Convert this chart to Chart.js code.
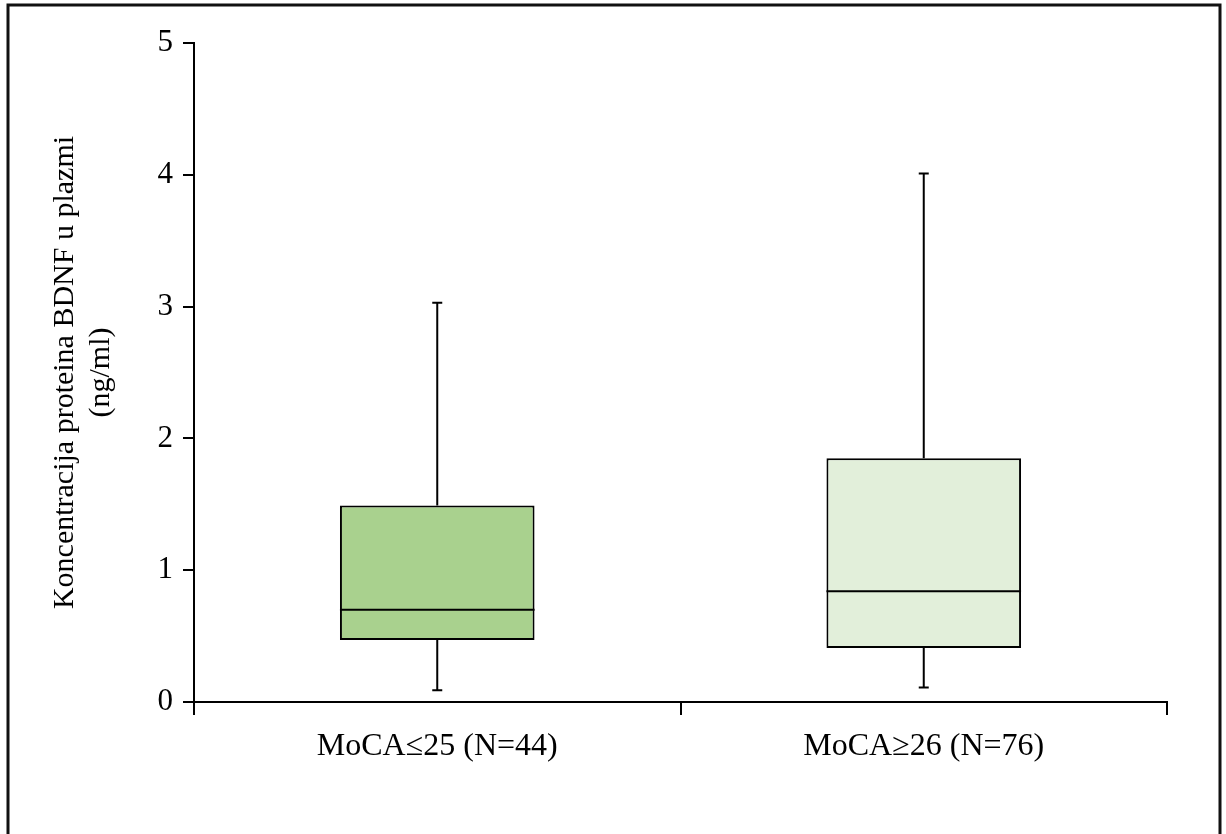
<!DOCTYPE html>
<html>
<head>
<meta charset="utf-8">
<script src="https://cdn.jsdelivr.net/npm/chart.js@4"></script>
<style>
  body { margin: 0; background: #fff; }
  #wrap { width: 1226px; height: 834px; }
</style>
</head>
<body>
<div id="wrap"><canvas id="box"></canvas></div>
<script>
// groups and box plot stats (ng/ml)
var groups = ['MoCA\u226425 (N=44)', 'MoCA\u226526 (N=76)'];
var mins = [0.09, 0.11];
var q1 = [0.47, 0.41];
var medians = [0.70, 0.84];
var q3 = [1.49, 1.85];
var maxs = [3.03, 4.01];
var boxColors = ['#a9d18e', '#e2efda'];
var yTicks = [0, 1, 2, 3, 4, 5];

var serif = "'Liberation Serif', 'Times New Roman', serif";

// whiskers, caps and median lines, placed with the chart's own scales
var boxExtras = {
    id: 'boxExtras',
    afterDatasetsDraw: function (chart) {
        var ctx = chart.ctx;
        var y = chart.scales.y;
        var bars = chart.getDatasetMeta(0).data;
        ctx.save();
        ctx.strokeStyle = '#000';
        ctx.lineWidth = 2;
        bars.forEach(function (bar, i) {
            var x = bar.x, half = bar.width / 2;
            var yMin = y.getPixelForValue(mins[i]);
            var yMax = y.getPixelForValue(maxs[i]);
            var yQ1 = y.getPixelForValue(q1[i]);
            var yQ3 = y.getPixelForValue(q3[i]);
            var yMed = y.getPixelForValue(medians[i]);
            ctx.beginPath();
            // upper whisker + cap
            ctx.moveTo(x, yQ3); ctx.lineTo(x, yMax);
            ctx.moveTo(x - 5, yMax); ctx.lineTo(x + 5, yMax);
            // lower whisker + cap
            ctx.moveTo(x, yQ1); ctx.lineTo(x, yMin);
            ctx.moveTo(x - 5, yMin); ctx.lineTo(x + 5, yMin);
            // median
            ctx.moveTo(x - half, yMed); ctx.lineTo(x + half, yMed);
            ctx.stroke();
        });
        ctx.restore();
    }
};

// outer frame of the figure
var frame = {
    id: 'frame',
    afterDraw: function (chart) {
        var ctx = chart.ctx;
        ctx.save();
        ctx.strokeStyle = '#111';
        ctx.lineWidth = 3;
        ctx.beginPath();
        ctx.moveTo(8, 834); ctx.lineTo(8, 5); ctx.lineTo(1220, 5); ctx.lineTo(1220, 834);
        ctx.stroke();
        ctx.restore();
    }
};

var ctx = document.getElementById('box').getContext('2d');
var chart = new Chart(ctx, {
    type: 'bar',
    data: {
        labels: groups,
        datasets: [{
            data: groups.map(function (g, i) { return [q1[i], q3[i]]; }),
            backgroundColor: boxColors,
            borderColor: '#000',
            borderWidth: 2,
            borderSkipped: false,
            barPercentage: 0.4,
            categoryPercentage: 1.0
        }]
    },
    options: {
        responsive: true,
        maintainAspectRatio: false,
        animation: false,
        layout: { padding: { top: 43, right: 59, bottom: 0, left: 0 } },
        plugins: {
            legend: { display: false },
            tooltip: { enabled: false }
        },
        scales: {
            x: {
                grid: { drawOnChartArea: false, drawTicks: true, tickLength: 13, color: '#000', lineWidth: 2, offset: true },
                border: { display: true, color: '#000', width: 2 },
                ticks: { color: '#000', padding: 12, font: { family: serif, size: 32 } },
                afterFit: function (s) { s.height = 132; }
            },
            y: {
                min: 0,
                max: 5,
                afterBuildTicks: function (s) { s.ticks = yTicks.map(function (v) { return { value: v }; }); },
                grid: { drawOnChartArea: false, drawTicks: true, tickLength: 11, color: '#000', lineWidth: 2 },
                border: { display: true, color: '#000', width: 2 },
                ticks: { color: '#000', padding: 10, font: { family: serif, size: 31 } },
                title: {
                    display: true,
                    text: ['Koncentracija proteina BDNF u plazmi', '(ng/ml)'],
                    color: '#000',
                    font: { family: serif, size: 30, lineHeight: 1.17 },
                    padding: { top: 48, bottom: 0 }
                },
                afterFit: function (s) { s.width = 194; }
            }
        }
    },
    plugins: [boxExtras, frame]
});
</script>
</body>
</html>
